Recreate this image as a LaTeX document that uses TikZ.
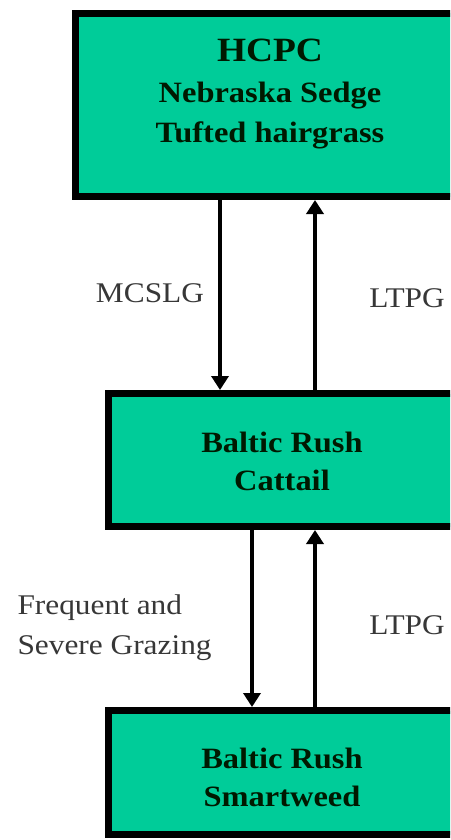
\documentclass[tikz,border=0pt]{standalone}
\usepackage{fontspec}
\setmainfont[FakeStretch=1.1]{Liberation Serif}
\usetikzlibrary{arrows.meta}
\definecolor{boxgreen}{RGB}{0,204,153}
\definecolor{labgray}{RGB}{55,55,55}
\begin{document}
\begin{tikzpicture}[x=1pt,y=-1pt,
  statebox/.style={draw=black,fill=boxgreen,line width=7pt,rectangle,inner sep=0pt},
  boxtext/.style={font=\bfseries\fontsize{29.5}{38}\selectfont,align=center,text=black!90!green},
  labtext/.style={font=\fontsize{28.5}{40}\selectfont,text=labgray},
  arr/.style={line width=4.5pt,-{Triangle[width=17pt,length=14pt]}}]
\useasboundingbox (0,0) rectangle (450,840);
\clip (0,0) rectangle (450,840);
\fill[white] (0,0) rectangle (450,840);
% boxes
\node[statebox,minimum width=390.5pt,minimum height=183pt] (top) at (270.75,105) {};
\node[statebox,minimum width=347.5pt,minimum height=133pt] (mid) at (282.25,460) {};
\node[statebox,minimum width=347.5pt,minimum height=124pt] (bot) at (282.25,772.5) {};
% box texts
\node[boxtext,font=\bfseries\fontsize{34}{40}\selectfont] (t1) at (270,50) {HCPC};
\node[boxtext,font=\bfseries\fontsize{29.5}{40}\selectfont] (t2) at (270,116) {Nebraska Sedge\\Tufted hairgrass};
\node[boxtext] (m1) at (282,461) {Baltic Rush\\Cattail};
\node[boxtext] (b1) at (282,777.5) {Baltic Rush\\Smartweed};
% connectors
\coordinate (d1) at (220,0);
\coordinate (u1) at (315,0);
\coordinate (d2) at (252,0);
\draw[arr] (top.south -| d1) -- (mid.north -| d1);
\draw[arr] (mid.north -| u1) -- (top.south -| u1);
\draw[arr] (mid.south -| d2) -- (bot.north -| d2);
\draw[arr] (bot.north -| u1) -- (mid.south -| u1);
% labels
\node[labtext] (l1) at (150,293) {MCSLG};
\node[labtext] (l2) at (407,298) {LTPG};
\node[labtext,align=left,anchor=west] (l3) at (14,628) {Frequent and\\Severe Grazing};
\node[labtext] (l4) at (407,625) {LTPG};
\end{tikzpicture}
\end{document}
